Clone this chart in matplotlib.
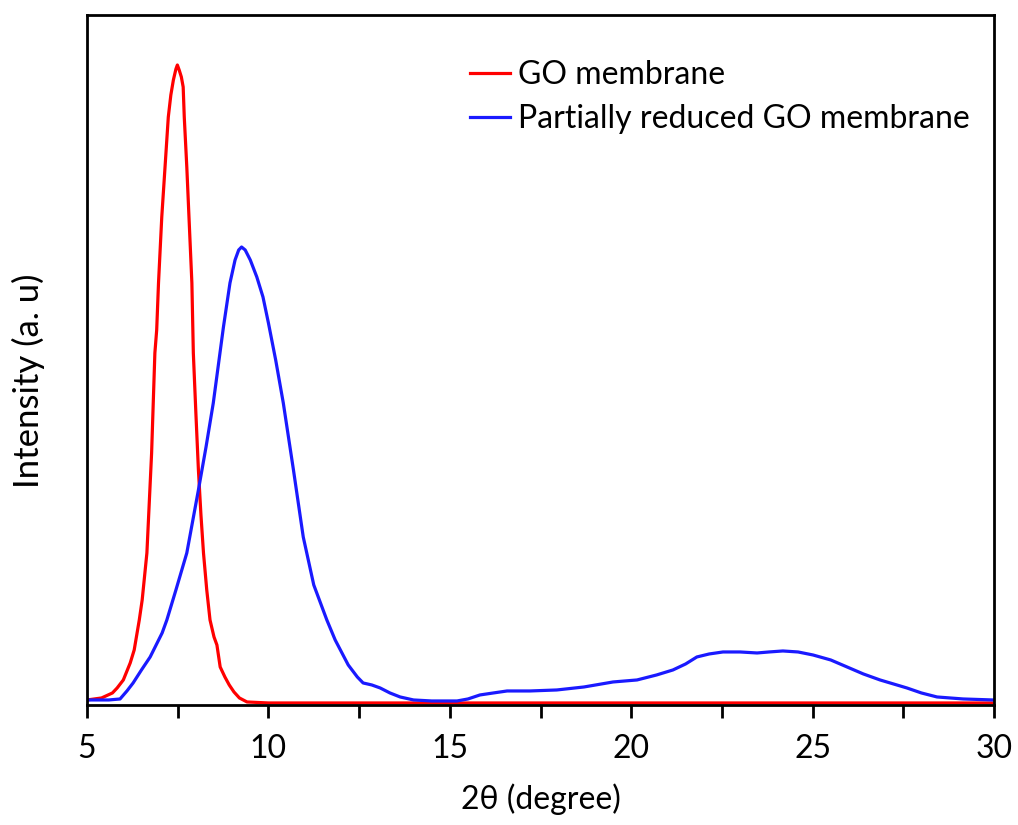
import matplotlib.pyplot as plt
from matplotlib.ticker import MultipleLocator

plt.rcParams['font.family'] = ['Lato', 'DejaVu Sans']

# GO membrane (red)
go_x = [5.0, 5.4, 5.7, 5.83, 6.0, 6.19, 6.3, 6.44, 6.52, 6.65, 6.78, 6.87, 6.92, 6.97, 7.06,
        7.15, 7.24, 7.31, 7.38, 7.45, 7.49, 7.54, 7.60, 7.65, 7.68, 7.75, 7.81, 7.89, 7.93,
        8.00, 8.07, 8.14, 8.21, 8.30, 8.39, 8.50, 8.58, 8.67, 8.80, 8.92, 9.05, 9.20, 9.41,
        10.0, 15.0, 20.0, 25.0, 30.0]
go_y = [5, 7, 12, 17, 25, 42, 55, 85, 105, 152, 252, 352, 375, 422, 488,
        538, 588, 610, 625, 636, 640, 635, 628, 618, 588, 538, 488, 422, 352,
        292, 235, 190, 152, 115, 85, 68, 60, 38, 28, 20, 13, 7, 3,
        2, 2, 2, 2, 2]

# Partially reduced GO membrane (blue)
rgo_x = [5.0, 5.6, 5.91, 6.1, 6.27, 6.5, 6.74, 7.07, 7.20, 7.45, 7.75, 8.07, 8.28, 8.48, 8.62,
         8.76, 8.94, 9.08, 9.18, 9.26, 9.36, 9.50, 9.68, 9.85, 10.00, 10.20, 10.41, 10.69,
         10.96, 11.25, 11.61, 11.84, 12.2, 12.45, 12.61, 12.85, 13.08, 13.35, 13.63, 14.0,
         14.5, 15.2, 15.5, 15.83, 16.2, 16.58, 17.21, 17.95, 18.7, 19.50, 20.16, 20.7, 21.15,
         21.5, 21.81, 22.15, 22.53, 23.0, 23.47, 23.8, 24.18, 24.6, 25.01, 25.5, 25.95,
         26.4, 26.86, 27.60, 28.0, 28.43, 29.15, 29.97]
rgo_y = [5, 5, 6, 14, 22, 35, 48, 72, 85, 115, 152, 215, 258, 302, 340,
         378, 422, 445, 455, 458, 455, 445, 428, 408, 382, 345, 302, 235,
         168, 120, 85, 65, 40, 28, 22, 20, 17, 12, 8, 5,
         4, 4, 6, 10, 12, 14, 14, 15, 18, 23, 25, 30, 35,
         41, 48, 51, 53, 53, 52, 53, 54, 53, 50, 45, 38,
         31, 25, 17, 12, 8, 6, 5]

fig = plt.figure(figsize=(10.18, 8.25), dpi=100)
ax = fig.add_axes([0.0855, 0.1455, 0.8909, 0.8363])

ax.plot(go_x, go_y, color='#ff0000', lw=2.3, label='GO membrane')
ax.plot(rgo_x, rgo_y, color='#1a1aff', lw=2.3, label='Partially reduced GO membrane')

ax.set_xlim(5, 30)
ax.set_ylim(0, 690)
ax.xaxis.set_major_locator(MultipleLocator(5))
ax.xaxis.set_minor_locator(MultipleLocator(2.5))
ax.tick_params(axis='x', which='both', direction='out', length=9, width=2, labelsize=23, pad=12)
ax.set_yticks([])
for s in ax.spines.values():
    s.set_linewidth(2)

ax.set_xlabel('2θ (degree)', fontsize=23, labelpad=14)
ax.set_ylabel('Intensity (a. u)', fontsize=25)
ax.yaxis.set_label_coords(-0.046, 0.47)

ax.legend(loc='upper left', bbox_to_anchor=(0.4223, 0.935), frameon=False, fontsize=23,
          borderpad=0, borderaxespad=0, handlelength=1.25, handletextpad=0.25,
          labelspacing=0.45)

fig.savefig('out.png', dpi=100)
